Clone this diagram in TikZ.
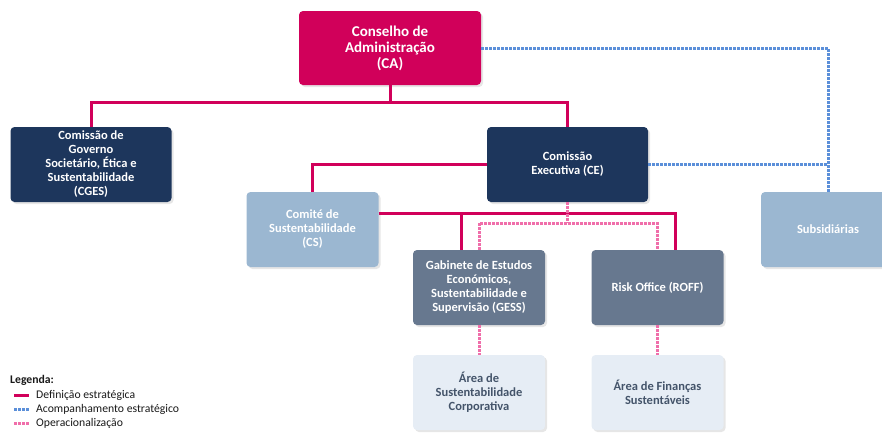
\documentclass[tikz,border=0pt]{standalone}
\usepackage{fontspec}
\setmainfont{Carlito}
\usepackage{xcolor}
\usetikzlibrary{shadows}

\definecolor{camagenta}{HTML}{D1005A}
\definecolor{navyblue}{HTML}{1D365C}
\definecolor{paleblue}{HTML}{9BB7D1}
\definecolor{slategray}{HTML}{67788F}
\definecolor{mistblue}{HTML}{E6EDF5}
\definecolor{inktext}{HTML}{44546A}
\definecolor{acompblue}{HTML}{5B8FD9}
\definecolor{operpink}{HTML}{F06EAA}

\begin{document}
\begin{tikzpicture}[x=1pt, y=-1pt, font=\bfseries\fontsize{12.5}{14}\selectfont]
        \tikzstyle{box} = [rectangle, rounded corners=4pt, minimum height=75pt, inner sep=2pt, align=center, text=white, drop shadow={shadow xshift=2pt, shadow yshift=-2pt, opacity=0.2}]
        \tikzstyle{board} = [box, fill=camagenta, minimum width=182pt, minimum height=74pt, font=\bfseries\fontsize{15}{16}\selectfont]
        \tikzstyle{navybox} = [box, fill=navyblue, minimum width=161pt]
        \tikzstyle{palebox} = [box, fill=paleblue, minimum width=132pt]
        \tikzstyle{slatebox} = [box, fill=slategray, minimum width=132pt]
        \tikzstyle{mistbox} = [box, fill=mistblue, minimum width=132pt, text=inktext]
        \tikzstyle{defline} = [draw=camagenta, line width=3pt]
        \tikzstyle{acomp} = [draw=acompblue, line width=3pt, dash pattern=on 2.5pt off 1.5pt]
        \tikzstyle{oper} = [draw=operpink, line width=3pt, dash pattern=on 2.5pt off 1.5pt]
        \tikzstyle{legtext} = [anchor=west, inner sep=0pt, text=black!90, font=\fontsize{11.7}{14}\selectfont]

    \useasboundingbox (0,0) rectangle (882,432);

    \node [board] (CA) at (390,48) {Conselho de\\Administração\\(CA)};
    \node [navybox] (CGES) at (91,164.5) {Comissão de\\Governo\\Societário, Ética e\\Sustentabilidade\\(CGES)};
    \node [navybox, below of=CA, node distance=116.5pt, xshift=177.5pt] (CE) {Comissão\\Executiva (CE)};
    \node [palebox] (CS) at (312.5,229.5) {Comité de\\Sustentabilidade\\(CS)};
    \node [palebox, minimum width=134pt] (SUB) at (828,229.5) {Subsidiárias};
    \node [slatebox] (GESS) at (479,287.5) {Gabinete de Estudos\\Económicos,\\Sustentabilidade e\\Supervisão (GESS)};
    \node [slatebox, right of=GESS, node distance=178.5pt] (ROFF) {Risk Office (ROFF)};
    \node [mistbox, below of=GESS, node distance=105pt] (ASC) {Área de\\Sustentabilidade\\Corporativa};
    \node [mistbox, below of=ROFF, node distance=105pt] (AFS) {Área de Finanças\\Sustentáveis};

    % definição estratégica
    \draw [defline] (CA.south) -- ++(0,17) coordinate (cabus);
    \draw [defline] (CGES.north) |- (cabus) -| (CE.north);
    \draw [defline] (CE.west) -| (CS.north);
    \coordinate (csbus) at ([yshift=16.5pt]CS.east);
    \draw [defline] (csbus) -| ([xshift=17.5pt]ROFF.north);
    \draw [defline] ([xshift=-18pt]GESS.north) -- ([xshift=-18pt]GESS.north |- csbus);

    % acompanhamento estratégico
    \draw [acomp] (CA.east) -| (SUB.north);
    \draw [acomp] (CE.east) -- (CE.east -| SUB.north);

    % operacionalização
    \draw [oper] (CE.south) -- ++(0,21) coordinate (opbus);
    \draw [oper] (GESS.north) |- (opbus) -| (ROFF.north);
    \draw [oper] (GESS.south) -- (ASC.north);
    \draw [oper] (ROFF.south) -- (AFS.north);

    % legenda
    \node [legtext, font=\bfseries\fontsize{11.7}{14}\selectfont] (legtitle) at (10,380) {Legenda:};
    \node [legtext] (legdef) at (36,395) {Definição estratégica};
    \node [legtext] (legacomp) at (36,409) {Acompanhamento estratégico};
    \node [legtext] (legoper) at (36,423) {Operacionalização};
    \draw [defline] ([xshift=-22pt]legdef.west) -- ([xshift=-7pt]legdef.west);
    \draw [acomp] ([xshift=-22pt]legacomp.west) -- ([xshift=-7pt]legacomp.west);
    \draw [oper] ([xshift=-22pt]legoper.west) -- ([xshift=-7pt]legoper.west);
\end{tikzpicture}
\end{document}
